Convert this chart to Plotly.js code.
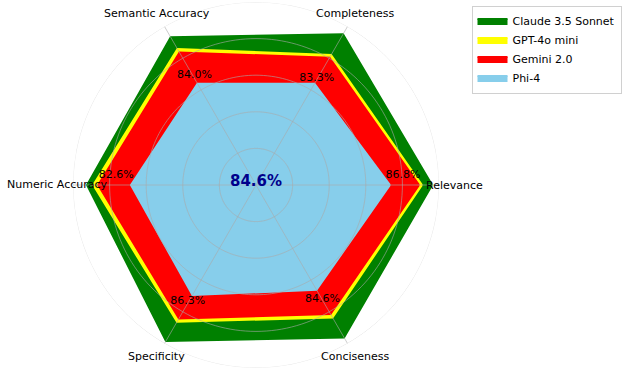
<!DOCTYPE html>
<html><head><meta charset="utf-8">
<script src="https://cdn.plot.ly/plotly-3.0.1.min.js"></script>
<style>html,body{margin:0;padding:0;background:#fff}#chart{width:624px;height:372px}</style>
</head><body><div id="chart"></div>
<script>
// ---- data ----
const categories = ['Relevance', 'Completeness', 'Semantic Accuracy', 'Numeric Accuracy', 'Specificity', 'Conciseness'];
const seriesNames = ['Claude 3.5 Sonnet', 'GPT-4o mini', 'Gemini 2.0', 'Phi-4'];
const claude    = [0.962, 0.951, 0.932, 0.923, 0.984, 0.962];
const gpt4oMini = [0.907, 0.820, 0.858, 0.889, 0.863, 0.836];
const gemini    = [0.891, 0.803, 0.836, 0.862, 0.842, 0.814];
const phi4      = [0.732, 0.639, 0.639, 0.683, 0.694, 0.661];
const phi4Scores = [86.8, 83.3, 84.0, 82.6, 86.3, 84.6];

// ---- label placement ----
const scoreLabelR = [0.805, 0.672, 0.689, 0.766, 0.736, 0.721];
const scoreLabelTheta = [3.9, 60.4, 119.2, 175.9, 239.5, 300.3];
const categoryLabelR = 1.082;
const gridRings = [0.2, 0.4, 0.6, 0.8, 1.0];
const colors = ['#008000', '#ffff00', '#ff0000', '#87ceeb'];

const n = categories.length;
const thetas = categories.map((_, i) => i * 360 / n);
const closed = arr => arr.concat([arr[0]]);
const FONT = 'DejaVu Sans, sans-serif';
const W = 624, H = 372, CX = 256, CY = 185, R = 183;

const traces = [];
[claude, gpt4oMini, gemini, phi4].forEach((vals, k) => {
  traces.push({
    type: 'scatterpolar', mode: 'lines', fill: 'toself',
    r: closed(vals), theta: closed(thetas),
    name: seriesNames[k], fillcolor: colors[k],
    line: {color: colors[k], width: 2}, hoverinfo: 'name'
  });
});

// grid drawn above fills (as in the reference)
const gridColor = 'rgba(170,170,170,0.6)';
const ringTheta = [];
for (let a = 0; a <= 360; a += 2) ringTheta.push(a);
gridRings.forEach(rv => {
  traces.push({type: 'scatterpolar', mode: 'lines', r: ringTheta.map(() => rv), theta: ringTheta,
    line: {color: rv === 1 ? '#e6e6e6' : gridColor, width: 1}, showlegend: false, hoverinfo: 'skip'});
});
thetas.forEach(t => {
  traces.push({type: 'scatterpolar', mode: 'lines', r: [0, 1], theta: [t, t],
    line: {color: gridColor, width: 1}, showlegend: false, hoverinfo: 'skip'});
});

// Phi-4 score labels
traces.push({
  type: 'scatterpolar', mode: 'text', r: scoreLabelR, theta: scoreLabelTheta,
  text: phi4Scores.map(v => v.toFixed(1) + '%'), textposition: 'middle center',
  textfont: {family: FONT, size: 11, color: '#000'}, showlegend: false, hoverinfo: 'skip', cliponaxis: false
});

const avg = phi4Scores.reduce((a, b) => a + b, 0) / n;
const dom = {x: [(CX - R) / W, (CX + R) / W], y: [(H - CY - R) / H, (H - CY + R) / H]};
const pcx = (dom.x[0] + dom.x[1]) / 2, pcy = (dom.y[0] + dom.y[1]) / 2;

const annotations = categories.map((c, i) => {
  const a = thetas[i] * Math.PI / 180;
  return {xref: 'paper', yref: 'paper', showarrow: false, text: c,
    x: pcx + categoryLabelR * R * Math.cos(a) / W, y: pcy + categoryLabelR * R * Math.sin(a) / H,
    xanchor: 'center', yanchor: 'middle', font: {family: FONT, size: 11, color: '#000'}};
});
annotations.push({
  xref: 'paper', yref: 'paper', x: pcx, y: pcy,
  yshift: 4, showarrow: false, text: '<b>' + avg.toFixed(1) + '%</b>',
  font: {family: FONT, size: 15, color: '#00008b'}
});

const layout = {
  width: W, height: H,
  margin: {l: 0, r: 0, t: 0, b: 0, autoexpand: false},
  paper_bgcolor: '#fff',
  font: {family: FONT, size: 11, color: '#000'},
  polar: {
    domain: dom, bgcolor: '#fff',
    radialaxis: {range: [0, 1], tickvals: [0.2, 0.4, 0.6, 0.8], showticklabels: false, ticks: '',
      showline: false, showgrid: false},
    angularaxis: {direction: 'counterclockwise', rotation: 0, tickmode: 'array', tickvals: thetas,
      showticklabels: false, ticks: '', showgrid: false, showline: false}
  },
  showlegend: true,
  legend: {x: 0.996, y: 0.985, xanchor: 'right', yanchor: 'top', bgcolor: '#fff',
    bordercolor: '#d0d0d0', borderwidth: 1, font: {family: FONT, size: 11, color: '#000'}},
  annotations: annotations
};

Plotly.newPlot('chart', traces, layout, {displayModeBar: false, staticPlot: true});
</script>
</body></html>
